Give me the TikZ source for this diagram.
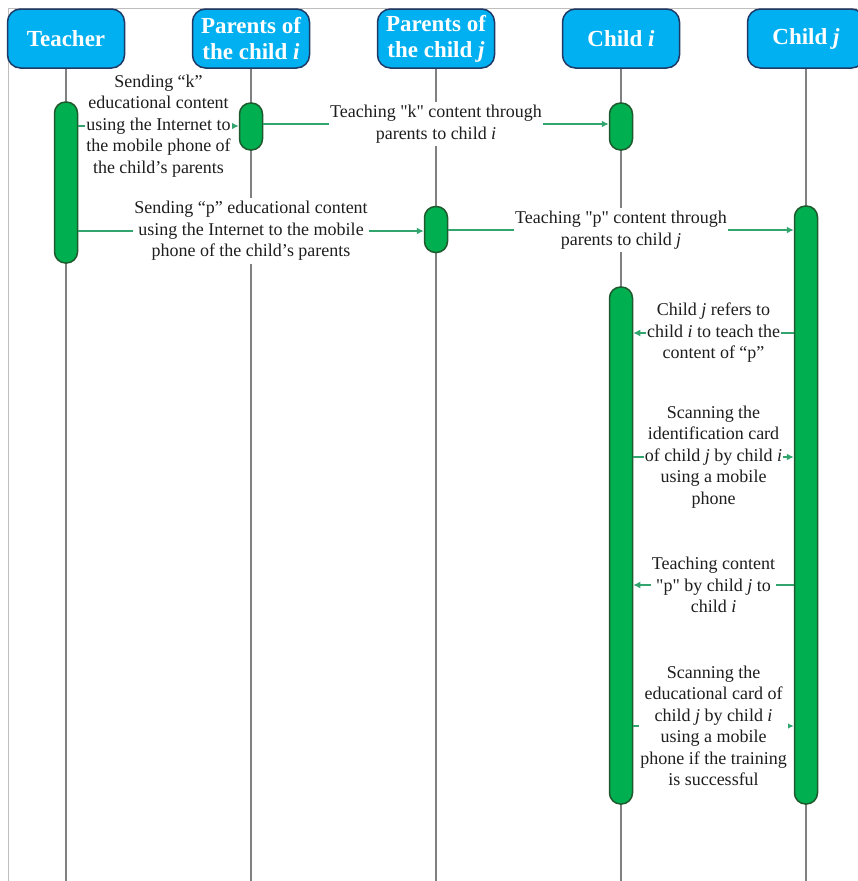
\documentclass[tikz,border=0pt]{standalone}
\usepackage{fontspec}
\setmainfont{Liberation Serif}
\usepackage{tikz}
\usetikzlibrary{arrows.meta}
\definecolor{hdrblue}{RGB}{0,176,240}
\definecolor{hdrline}{RGB}{31,56,100}
\definecolor{bargreen}{RGB}{0,176,80}
\definecolor{bardark}{RGB}{30,90,45}
\definecolor{msggreen}{RGB}{50,165,110}
\definecolor{lifegray}{RGB}{128,128,128}
\definecolor{framegray}{RGB}{190,190,190}
\definecolor{txtgray}{RGB}{30,30,30}

\begin{document}
\begin{tikzpicture}[x=1pt,y=-1pt,
		actor/.style={draw=hdrline, line width=1.5pt, fill=hdrblue, rounded corners=13pt, minimum width=117pt, minimum height=59pt, inner sep=0pt, align=center, text=white, font=\fontsize{23}{26}\selectfont\bfseries},
		life/.style={draw=lifegray, line width=2pt},
		bar/.style={draw=bardark, line width=1.5pt, fill=bargreen, rounded corners=11pt, minimum width=23pt, inner sep=0pt},
		msg/.style={draw=msggreen, line width=1.5pt, -{Latex[length=7pt,width=7pt]}},
		lbl/.style={fill=white, text=txtgray, inner xsep=1pt, inner ysep=3pt, align=center, font=\fontsize{18}{21.5}\selectfont}]
		\useasboundingbox (0,0) rectangle (857,881);
		\draw[framegray, line width=1pt] (8,881) -- (8,8) -- (857,8);
		% actors
		\node[actor] (teacher) at (66,38.5) {Teacher};
		\node[actor] (parI) at (251,38.5) {Parents of\\the child \textit{i}};
		\node[actor] (parJ) at (436,38.5) {Parents of\\the child \textit{j}};
		\node[actor] (chI) at (621,38.5) {Child \textit{i}};
		\node[actor] (chJ) at (806,38.5) {Child \textit{j}};
		% lifelines
		\draw[life] (teacher.south) -- (teacher.south |- 0,881);
		\draw[life] (parI.south) -- (parI.south |- 0,881);
		\draw[life] (parJ.south) -- (parJ.south |- 0,881);
		\draw[life] (chI.south) -- (chI.south |- 0,881);
		\draw[life] (chJ.south) -- (chJ.south |- 0,881);
		% activations
		\node[bar, minimum height=161pt] (tBar) at (66,182.5) {};
		\node[bar, minimum height=47pt] (piBar) at (251,126.5) {};
		\node[bar, minimum height=47pt] (ciBarA) at (621,126.5) {};
		\node[bar, minimum height=46pt] (pjBar) at (436,229.5) {};
		\node[bar, minimum height=598pt] (cjBar) at (806,505) {};
		\node[bar, minimum height=517pt] (ciBarB) at (621,545.5) {};
		% messages
		\draw[msg] (tBar.east |- 0,126) -- node[lbl]{Sending “k”\\educational content\\using the Internet to\\the mobile phone of\\the child's parents} (piBar.west |- 0,126);
		\draw[msg] (piBar.east |- 0,124) -- node[lbl]{Teaching \textquotedbl k\textquotedbl{} content through\\parents to child \textit{i}} (ciBarA.west |- 0,124);
		\draw[msg] (tBar.east |- 0,231) -- node[lbl]{Sending “p” educational content\\using the Internet to the mobile\\phone of the child's parents} (pjBar.west |- 0,231);
		\draw[msg] (pjBar.east |- 0,230) -- node[lbl]{Teaching \textquotedbl p\textquotedbl{} content through\\parents to child \textit{j}} (cjBar.west |- 0,230);
		\draw[msg] (cjBar.west |- 0,333) -- node[lbl]{Child \textit{j} refers to\\child \textit{i} to teach the\\content of “p”} (ciBarB.east |- 0,333);
		\draw[msg] (ciBarB.east |- 0,457) -- node[lbl]{Scanning the\\identification card\\of child \textit{j} by child \textit{i}\\using a mobile\\phone} (cjBar.west |- 0,457);
		\draw[msg] (cjBar.west |- 0,585) -- node[lbl]{Teaching content\\\textquotedbl p\textquotedbl{} by child \textit{j} to\\child \textit{i}} (ciBarB.east |- 0,585);
		\draw[msg] (ciBarB.east |- 0,726) -- node[lbl]{Scanning the\\educational card of\\child \textit{j} by child \textit{i}\\using a mobile\\phone if the training\\is successful} (cjBar.west |- 0,726);
	\end{tikzpicture}
\end{document}
